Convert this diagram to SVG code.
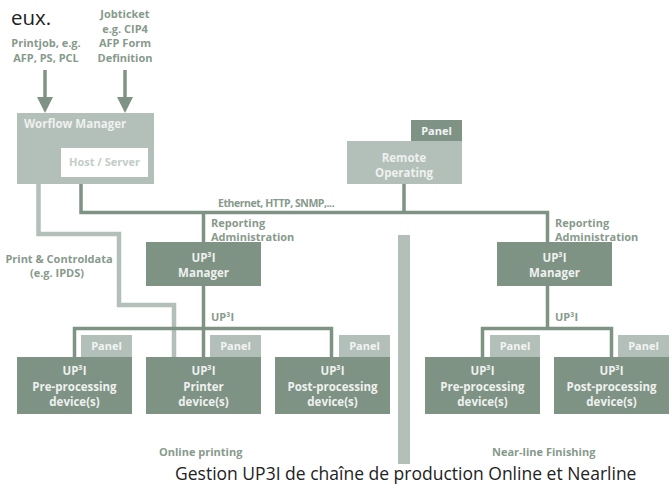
<svg xmlns="http://www.w3.org/2000/svg" width="671" height="492" viewBox="0 0 671 492">
<defs>
<style>
.dk{fill:#7f9385}
.lt{fill:#b3c0b9}
.bt{font-family:"Open Sans","Noto Sans",sans-serif;font-weight:700;font-size:11.5px;fill:#eef1ef;text-anchor:middle}
.lb{font-family:"Open Sans","Noto Sans",sans-serif;font-weight:700;font-size:11px;fill:#879a8c}
.pn{font-family:"Open Sans","Noto Sans",sans-serif;font-weight:700;font-size:11px;fill:#f2f4f3;text-anchor:middle}
.dl{fill:none;stroke:#7f9385;stroke-width:3.5}
.ll{fill:none;stroke:#b3c0b9;stroke-width:4.5}
.cap{font-family:"Open Sans","Noto Sans",sans-serif;font-size:17.5px;fill:#222}
</style>
<marker id="ah" viewBox="0 0 16 16" refX="2" refY="8" markerWidth="16" markerHeight="16" markerUnits="userSpaceOnUse" orient="auto">
<path d="M0,0 L16,8 L0,16 z" fill="#7f9385"/>
</marker>
</defs>
<rect width="671" height="492" fill="#fff"/>

<text x="11" y="25" font-family="'Open Sans','Noto Sans',sans-serif" font-size="20.5" fill="#222">eux.</text>

<!-- separator -->
<rect x="398" y="235" width="12" height="229" class="lt"/>

<!-- connectors -->
<g id="connectors">
<path class="dl" d="M45,70 V99" marker-end="url(#ah)"/>
<path class="dl" d="M125,70 V99" marker-end="url(#ah)"/>
<path class="ll" d="M38.5,184 V234 H119 V305 H174 V357"/>
<path class="dl" d="M81,184 V212.5 H547.5 V242"/>
<path class="dl" d="M404,184 V212.5"/>
<path class="dl" d="M203.5,212.5 V242"/>
<path class="dl" d="M203.5,286 V357"/>
<path class="dl" d="M74.5,357 V328.5 H331.5 V357"/>
<path class="dl" d="M547.5,286 V328.5"/>
<path class="dl" d="M482.5,357 V328.5 H611.5 V357"/>
</g>

<!-- labels -->
<g id="labels">
<text class="lb" text-anchor="middle" x="46" y="47">Printjob, e.g.</text>
<text class="lb" text-anchor="middle" x="46" y="62">AFP, PS, PCL</text>
<text class="lb" text-anchor="middle" x="125" y="18">Jobticket</text>
<text class="lb" text-anchor="middle" x="125" y="33">e.g. CIP4</text>
<text class="lb" text-anchor="middle" x="125" y="47">AFP Form</text>
<text class="lb" text-anchor="middle" x="125" y="62">Definition</text>
<text class="lb" x="218" y="207" style="font-size:10.5px;letter-spacing:-0.45px">Ethernet, HTTP, SNMP,...</text>
<text class="lb" x="211" y="227">Reporting</text>
<text class="lb" x="211" y="241">Administration</text>
<text class="lb" x="555" y="227">Reporting</text>
<text class="lb" x="555" y="241">Administration</text>
<text class="lb" text-anchor="middle" x="59" y="263">Print &amp; Controldata</text>
<text class="lb" text-anchor="middle" x="57" y="277">(e.g. IPDS)</text>
<text class="lb" x="211" y="321">UP³I</text>
<text class="lb" x="555" y="321">UP³I</text>
<text class="lb" x="159" y="456">Online printing</text>
<text class="lb" x="492" y="456">Near-line Finishing</text>
</g>

<g id="workflow-manager">
<rect x="17" y="113" width="137" height="71" class="lt"/>
<text class="bt" x="24" y="128" style="text-anchor:start">Worflow Manager</text>
<rect x="61" y="148" width="87" height="29" fill="#fff"/>
<text class="lb" text-anchor="middle" x="104.5" y="166" style="fill:#c3ccc7">Host / Server</text>
</g>

<g id="remote-operating">
<rect x="411" y="120" width="51" height="21" class="dk"/>
<text class="pn" x="436.5" y="135">Panel</text>
<rect x="347" y="141" width="115" height="43" class="lt"/>
<text class="bt" x="404" y="162">Remote</text>
<text class="bt" x="404" y="177">Operating</text>
</g>

<g id="up3i-manager-online">
<rect x="146" y="242" width="115" height="44" class="dk"/>
<text class="bt" x="203.5" y="262">UP³I</text>
<text class="bt" x="203.5" y="277">Manager</text>
</g>

<g id="up3i-manager-nearline">
<rect x="497" y="242" width="115" height="44" class="dk"/>
<text class="bt" x="554.5" y="262">UP³I</text>
<text class="bt" x="554.5" y="277">Manager</text>
</g>

<g id="pre-processing-online">
<rect x="81" y="335" width="51" height="22" class="lt"/>
<text class="pn" x="106.5" y="350">Panel</text>
<rect x="17" y="357" width="115" height="57" class="dk"/>
<text class="bt" x="74.5" y="375">UP³I</text>
<text class="bt" x="74.5" y="391">Pre-processing</text>
<text class="bt" x="74.5" y="406">device(s)</text>
</g>

<g id="printer-device">
<rect x="210" y="335" width="51" height="22" class="lt"/>
<text class="pn" x="235.5" y="350">Panel</text>
<rect x="146" y="357" width="115" height="57" class="dk"/>
<text class="bt" x="203.5" y="375">UP³I</text>
<text class="bt" x="203.5" y="391">Printer</text>
<text class="bt" x="203.5" y="406">device(s)</text>
</g>

<g id="post-processing-online">
<rect x="339" y="335" width="51" height="22" class="lt"/>
<text class="pn" x="364.5" y="350">Panel</text>
<rect x="275" y="357" width="115" height="57" class="dk"/>
<text class="bt" x="332.5" y="375">UP³I</text>
<text class="bt" x="332.5" y="391">Post-processing</text>
<text class="bt" x="332.5" y="406">device(s)</text>
</g>

<g id="pre-processing-nearline">
<rect x="490" y="335" width="50" height="22" class="lt"/>
<text class="pn" x="515" y="350">Panel</text>
<rect x="425" y="357" width="115" height="57" class="dk"/>
<text class="bt" x="482.5" y="375">UP³I</text>
<text class="bt" x="482.5" y="391">Pre-processing</text>
<text class="bt" x="482.5" y="406">device(s)</text>
</g>

<g id="post-processing-nearline">
<rect x="618" y="335" width="51" height="22" class="lt"/>
<text class="pn" x="643.5" y="350">Panel</text>
<rect x="554" y="357" width="115" height="57" class="dk"/>
<text class="bt" x="611.5" y="375">UP³I</text>
<text class="bt" x="611.5" y="391">Post-processing</text>
<text class="bt" x="611.5" y="406">device(s)</text>
</g>

<text class="cap" x="175" y="480">Gestion UP3I de chaîne de production Online et Nearline</text>
</svg>
